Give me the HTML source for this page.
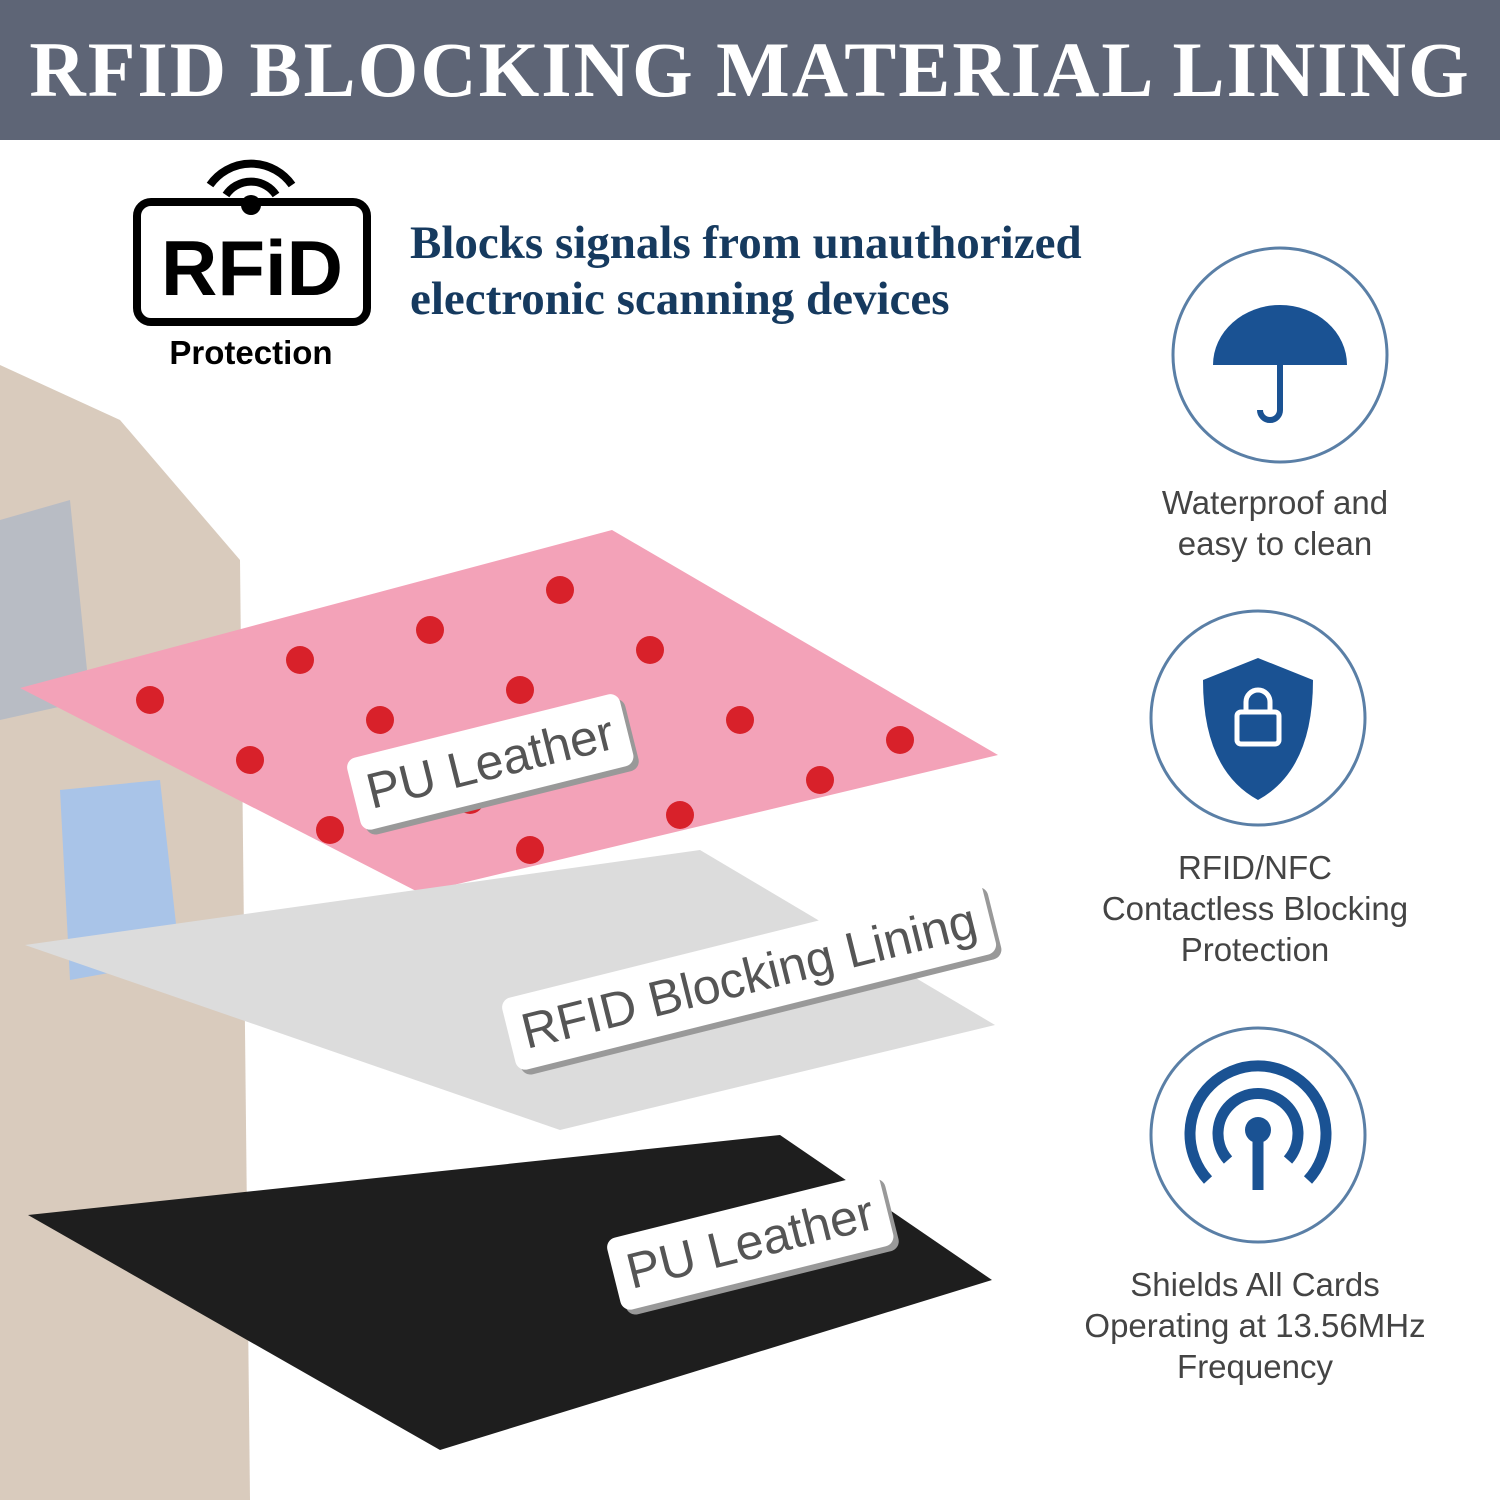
<!DOCTYPE html>
<html><head><style>
body{margin:0;width:1500px;height:1500px;background:#fff;position:relative;overflow:hidden;font-family:"Liberation Sans",sans-serif}
.hdr{position:absolute;left:0;top:0;width:1500px;height:140px;background:#5e6576;color:#fff;font-family:"Liberation Serif",serif;font-weight:bold;font-size:78px;text-align:center;line-height:140px;letter-spacing:2px}
.t{position:absolute;font-family:"Liberation Serif",serif;font-weight:bold;color:#163a5f;font-size:47px;left:410px}
.c{position:absolute;text-align:center;color:#444;font-size:33px;line-height:41px;width:420px}
.lab{position:absolute;background:#fff;border-radius:10px;box-shadow:4px 6px 0 #999;color:#555;font-size:50px;padding:8px 14px;transform-origin:left top}
</style></head><body>
<div class="hdr">RFID BLOCKING MATERIAL LINING</div>
<svg width="1500" height="1500" style="position:absolute;left:0;top:0">
<polygon points="0,365 120,420 240,560 250,1500 0,1500" fill="#d9cbbd"/>
<polygon points="0,520 70,500 90,700 0,720" fill="#b8bcc4"/>
<polygon points="60,790 160,780 180,960 70,980" fill="#a9c4e8"/>
<polygon points="20,688 612,530 998,755 420,893" fill="#f3a2b8"/>
<g fill="#d8212a">
<circle cx="150" cy="700" r="14"/><circle cx="300" cy="660" r="14"/><circle cx="430" cy="630" r="14"/><circle cx="560" cy="590" r="14"/>
<circle cx="250" cy="760" r="14"/><circle cx="380" cy="720" r="14"/><circle cx="520" cy="690" r="14"/><circle cx="650" cy="650" r="14"/>
<circle cx="330" cy="830" r="14"/><circle cx="470" cy="800" r="14"/><circle cx="600" cy="760" r="14"/><circle cx="740" cy="720" r="14"/>
<circle cx="530" cy="850" r="14"/><circle cx="680" cy="815" r="14"/><circle cx="820" cy="780" r="14"/><circle cx="900" cy="740" r="14"/>
</g>
<polygon points="25,945 700,850 995,1025 560,1130" fill="#dcdcdc"/>
<polygon points="28,1215 780,1135 992,1280 440,1450" fill="#1e1e1e"/>
<rect x="137" y="202" width="230" height="120" rx="14" fill="none" stroke="#000" stroke-width="8"/>
<path d="M226 195 a30 30 0 0 1 50 0 M210 185 a50 50 0 0 1 82 0" stroke="#000" stroke-width="8" fill="none"/>
<circle cx="251" cy="205" r="10" fill="#000"/>
<text x="252" y="295" font-size="78" font-weight="bold" text-anchor="middle" font-family="Liberation Sans">RFiD</text>
<text x="251" y="364" font-size="33" font-weight="bold" text-anchor="middle" font-family="Liberation Sans">Protection</text>
<g fill="none" stroke="#5a7fa6" stroke-width="3"><circle cx="1280" cy="355" r="107"/><circle cx="1258" cy="718" r="107"/><circle cx="1258" cy="1135" r="107"/></g>
<path d="M1213 365 a67 60 0 0 1 134 0 z" fill="#1a5293"/>
<path d="M1280 360 v50 a10 10 0 0 1 -20 0" stroke="#1a5293" stroke-width="6" fill="none"/>
<path d="M1258 658 l55 22 q0 90 -55 120 q-55 -30 -55 -120z" fill="#1a5293"/>
<rect x="1237" y="712" width="42" height="32" rx="4" fill="none" stroke="#fff" stroke-width="5"/>
<path d="M1246 712 v-10 a12 12 0 0 1 24 0 v10" stroke="#fff" stroke-width="5" fill="none"/>
<g stroke="#1a5293" stroke-width="11" fill="none"><path d="M1228 1160 a40 40 0 1 1 60 0"/><path d="M1208 1180 a68 68 0 1 1 100 0"/><path d="M1258 1140 v50"/></g>
<circle cx="1258" cy="1130" r="13" fill="#1a5293"/>
</svg>
<div class="t" style="top:216px">Blocks signals from unauthorized</div>
<div class="t" style="top:272px">electronic scanning devices</div>
<div class="c" style="left:1065px;top:482px">Waterproof and<br>easy to clean</div>
<div class="c" style="left:1045px;top:847px">RFID/NFC<br>Contactless Blocking<br>Protection</div>
<div class="c" style="left:1045px;top:1264px">Shields All Cards<br>Operating at 13.56MHz<br>Frequency</div>
<div class="lab" style="left:345px;top:760px;transform:rotate(-14deg)">PU Leather</div>
<div class="lab" style="left:500px;top:1000px;transform:rotate(-14deg)">RFID Blocking Lining</div>
<div class="lab" style="left:605px;top:1240px;transform:rotate(-14deg)">PU Leather</div>
</body></html>
